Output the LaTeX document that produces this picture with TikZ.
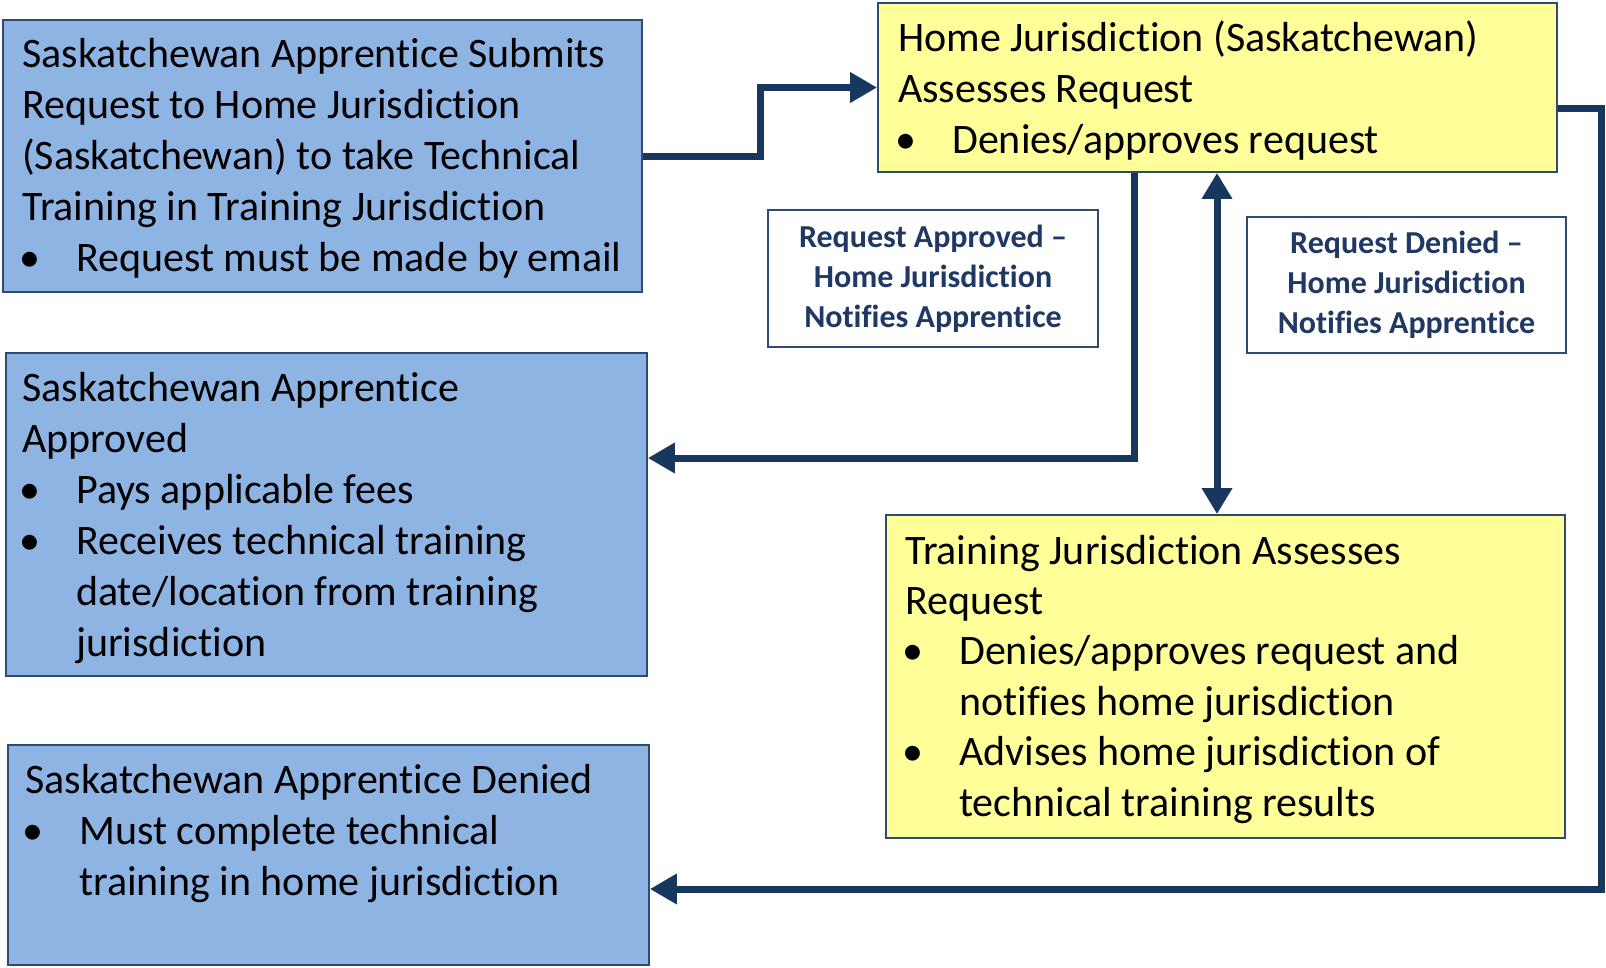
\documentclass[tikz,border=0pt]{standalone}
\usepackage{fontspec}
\setmainfont{Carlito}[Ligatures=NoCommon]
\usetikzlibrary{arrows.meta}
\definecolor{boxblue}{HTML}{8EB4E3}
\definecolor{boxyellow}{HTML}{FFFF99}
\definecolor{edgeblue}{HTML}{2F4B73}
\definecolor{navy}{HTML}{17375E}
\definecolor{labelnavy}{HTML}{1F3864}
\newcommand\bitem[1]{\makebox[54pt][l]{\hspace*{-3pt}•}#1}
\newcommand\bcont[1]{\hspace*{54pt}#1}
\tikzset{
  bluebox/.style={draw=edgeblue, line width=1.8pt, fill=boxblue, inner sep=0pt},
  yellowbox/.style={draw=edgeblue, line width=1.8pt, fill=boxyellow, inner sep=0pt},
  labelbox/.style={draw=edgeblue, line width=1.8pt, fill=white, inner sep=0pt, align=center,
    text=labelnavy, font=\fontsize{32}{40}\selectfont\bfseries},
  boxtext/.style={anchor=base west, align=left, inner sep=0pt, text=black,
    font=\fontsize{42}{51}\selectfont},
  conn/.style={line width=7pt, draw=navy, line join=miter,
    -{Triangle[length=27pt,width=29pt]}},
  conn2/.style={line width=7pt, draw=navy, line join=miter,
    {Triangle[length=26pt,width=29pt]}-{Triangle[length=26pt,width=29pt]}}
}
\begin{document}
\begin{tikzpicture}[x=1pt,y=-1pt]
\useasboundingbox (0,0) rectangle (1606,967);
% boxes
\node[bluebox, minimum width=639pt, minimum height=272pt] (b1) at (322.5,156) {};
\node[bluebox, minimum width=641pt, minimum height=323pt] (b2) at (326.5,514.5) {};
\node[bluebox, minimum width=641pt, minimum height=220pt] (b3) at (328.5,855) {};
\node[yellowbox, minimum width=679pt, minimum height=169pt] (b4) at (1217.5,87.5) {};
\node[yellowbox, minimum width=679pt, minimum height=323pt] (b5) at (1225.5,676.5) {};
% texts (anchored at the baseline of their last line)
\node[boxtext] (t1) at (22,271) {Saskatchewan Apprentice Submits\\Request to Home Jurisdiction\\(Saskatchewan) to take Technical\\Training in Training Jurisdiction\\\bitem{Request must be made by email}};
\node[boxtext] (t2) at (22,656) {Saskatchewan Apprentice\\Approved\\\bitem{Pays applicable fees}\\\bitem{Receives technical training}\\\bcont{date/location from training}\\\bcont{jurisdiction}};
\node[boxtext] (t3) at (25,895) {Saskatchewan Apprentice Denied\\\bitem{Must complete technical}\\\bcont{training in home jurisdiction}};
\node[boxtext] (t4) at (898,153) {Home Jurisdiction (Saskatchewan)\\Assesses Request\\\bitem{Denies/approves request}};
\node[boxtext, font=\fontsize{42}{50.4}\selectfont] (t5) at (905,816) {Training Jurisdiction Assesses\\Request\\\bitem{Denies/approves request and}\\\bcont{notifies home jurisdiction}\\\bitem{Advises home jurisdiction of}\\\bcont{technical training results}};
% label boxes
\node[labelbox, minimum width=330pt, minimum height=137pt] (l1) at (933,278.5) {Request Approved –\\Home Jurisdiction\\Notifies Apprentice};
\node[labelbox, minimum width=319pt, minimum height=136pt] (l2) at (1406.5,285) {Request Denied –\\Home Jurisdiction\\Notifies Apprentice};
% connector coordinates
\coordinate (c1) at (760,156);
\coordinate (c2) at (1134,458);
\coordinate (c3a) at (1601,108);
\coordinate (c3b) at (1601,889);
\coordinate (c4) at (1217,300);
% connectors
\draw[conn] (b1.east) -- (c1) |- (b4.west);
\draw[conn] (b4.south -| c2) -- (c2) -- (b2.east |- c2);
\draw[conn] (b4.east |- c3a) -- (c3a) -- (c3b) -- (b3.east |- c3b);
\draw[conn2] (b4.south -| c4) -- (b5.north -| c4);
\end{tikzpicture}
\end{document}
